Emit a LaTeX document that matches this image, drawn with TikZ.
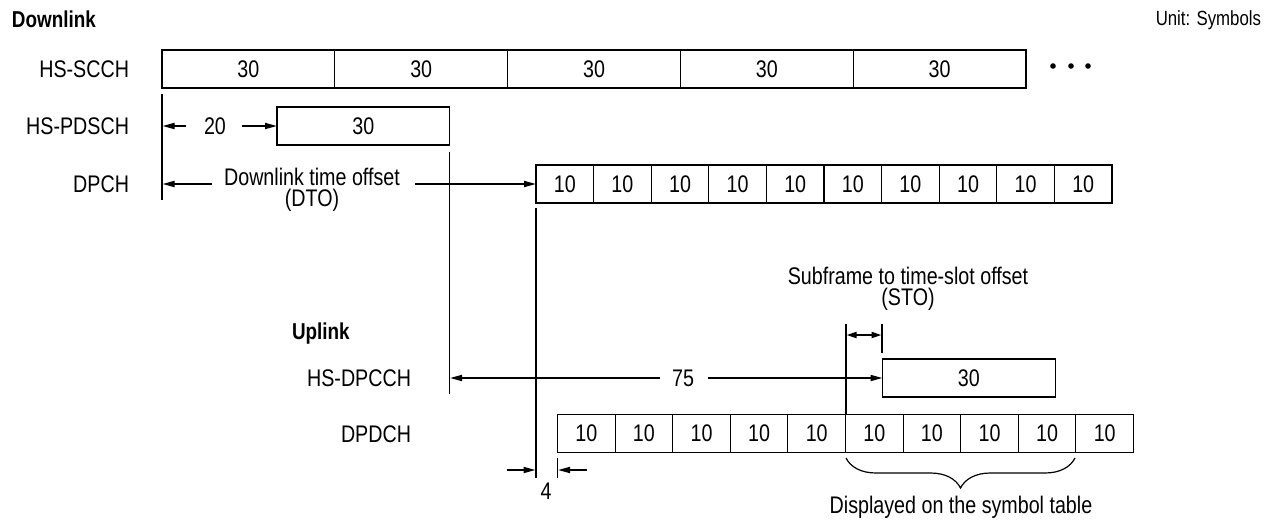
\documentclass[tikz,border=0pt]{standalone}
\usepackage{fontspec}
\setmainfont{Liberation Sans}[FakeStretch=0.82]
\usetikzlibrary{arrows.meta,decorations.pathreplacing}
\begin{document}
\begin{tikzpicture}[x=1pt,y=-1pt,
  txt/.style={inner sep=0pt, outer sep=0pt, font=\fontsize{24}{20}\selectfont},
  twoline/.style={txt, align=center, font=\fontsize{24}{21.5}\selectfont},
  cell/.style={txt, draw, line width=1.1pt, minimum height=38pt, anchor=west},
  bigcell/.style={cell, minimum width=172.8pt},
  smallcell/.style={cell, minimum width=57.6pt},
  lbl/.style={txt, anchor=east},
  hdr/.style={inner sep=0pt, outer sep=0pt, font=\bfseries\fontsize{23}{23}\selectfont, anchor=base west},
  tick/.style={line width=1.1pt},
  dim/.style={line width=1.7pt, -{Triangle[length=12pt,width=6pt]}},
  ddim/.style={line width=1.7pt, {Triangle[length=10pt,width=6pt]}-{Triangle[length=10pt,width=6pt]}},
  ]
\useasboundingbox (0,0) rectangle (1267,520);

% headers
\node[hdr] (dl) at (12,27) {Downlink};
\node[txt, font=\fontsize{20.5}{20.5}\selectfont, anchor=base east] (unit) at (1261,25) {Unit: Symbols};
\node[hdr] (ul) at (292,339) {Uplink};

% channel labels
\node[lbl] (lscch) at (129,69) {HS-SCCH};
\node[lbl] (lpdsch) at (129,126) {HS-PDSCH};
\node[lbl] (ldpch) at (129,184) {DPCH};
\node[lbl] (ldpcch) at (411,378) {HS-DPCCH};
\node[lbl] (ldpdch) at (411,434) {DPDCH};

% HS-SCCH
\node[bigcell] (s1) at (162,69) {30};
\node[bigcell] (s2) at (s1.east) {30};
\node[bigcell] (s3) at (s2.east) {30};
\node[bigcell] (s4) at (s3.east) {30};
\node[bigcell] (s5) at (s4.east) {30};
\fill (1053,66) circle[radius=2.8pt] (1071,66) circle[radius=2.8pt] (1088,66) circle[radius=2.8pt];

% HS-PDSCH
\node[bigcell] (p1) at (277,126) {30};

% DPCH
\node[smallcell] (d1) at (536,184) {10};
\foreach \i [evaluate=\i as \j using int(\i-1)] in {2,...,10}
  \node[smallcell] (d\i) at (d\j.east) {10};

% HS-DPCCH
\node[bigcell] (h1) at (882.5,378) {30};

% DPDCH
\node[smallcell] (u1) at (557.5,433.5) {10};
\foreach \i [evaluate=\i as \j using int(\i-1)] in {2,...,10}
  \node[smallcell] (u\i) at (u\j.east) {10};

% tick lines
\coordinate (tAt) at (162,94);    \coordinate (tAb) at (162,200);
\coordinate (tBt) at (449.5,152); \coordinate (tBb) at (449.5,394);
\coordinate (tCt) at (536,208);   \coordinate (tCb) at (536,478);
\coordinate (tDt) at (846,324);   \coordinate (tDb) at (846,414);
\coordinate (tEt) at (882,324);   \coordinate (tEb) at (882,353);
\coordinate (tFt) at (557.5,458); \coordinate (tFb) at (557.5,478);
\draw[tick] (tAt) -- (tAb);
\draw[tick] (tBt) -- (tBb);
\draw[tick] (tCt) -- (tCb);
\draw[tick] (tDt) -- (tDb);
\draw[tick] (tEt) -- (tEb);
\draw[tick] (tFt) -- (tFb);

% 20
\node[txt] (n20) at (215,126) {20};
\coordinate (a20l) at (186,126); \coordinate (a20le) at (162.5,126);
\coordinate (a20r) at (242,126);
\draw[dim] (a20l) -- (a20le);
\draw[dim] (a20r) -- (p1.west);

% DTO
\node[twoline] (dto) at (312,190) {Downlink time offset\\(DTO)};
\coordinate (adl) at (212,184); \coordinate (adle) at (162.5,184);
\coordinate (adr) at (415,184);
\draw[dim] (adl) -- (adle);
\draw[dim] (adr) -- (d1.west);

% STO
\node[twoline] (sto) at (908,289) {Subframe to time-slot offset\\(STO)};
\coordinate (asl) at (846.5,335); \coordinate (asr) at (881.5,335);
\draw[ddim] (asl) -- (asr);

% 75
\node[txt] (n75) at (683,378) {75};
\coordinate (a75l) at (660,378); \coordinate (a75le) at (450,378);
\coordinate (a75r) at (708,378);
\draw[dim] (a75l) -- (a75le);
\draw[dim] (a75r) -- (h1.west);

% 4
\node[txt] (n4) at (546,491) {4};
\coordinate (a4l) at (507,470); \coordinate (a4le) at (535.5,470);
\coordinate (a4r) at (587,470); \coordinate (a4re) at (558,470);
\draw[dim] (a4l) -- (a4le);
\draw[dim] (a4r) -- (a4re);

% brace
\coordinate (brl) at (846,458); \coordinate (brr) at (1075,458);
\draw[line width=1.2pt, decorate, decoration={brace, mirror, amplitude=30pt}] (brl) -- (brr);
\node[txt, anchor=base] (disp) at (961,513) {Displayed on the symbol table};
\end{tikzpicture}
\end{document}
